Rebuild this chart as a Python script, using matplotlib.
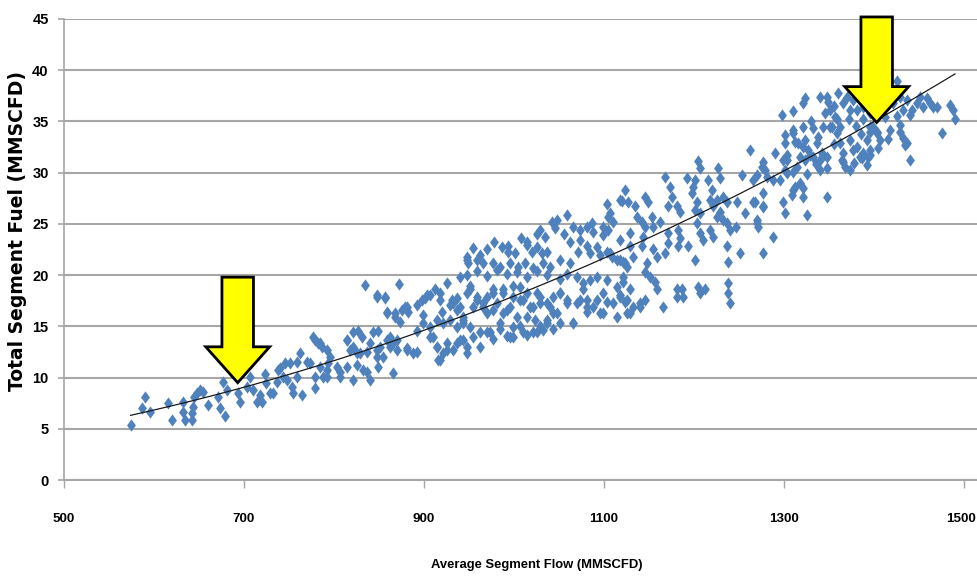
import numpy as np
import matplotlib.pyplot as plt
import matplotlib.transforms as mtransforms
from matplotlib.patches import Polygon

# Scatter points (flow in MMSCFD, fuel in MMSCFD)
flow = [574, 587, 590, 596, 616, 620, 632, 632, 634, 642, 642, 643, 645, 648, 651, 654, 660, 671, 673, 679,
        677, 681, 693, 696, 703, 707, 710, 714, 718, 720, 723, 725, 729, 732, 737, 738, 740, 743, 746, 751,
        748, 753, 754, 759, 764, 773, 779, 782, 787, 779, 779, 788, 792, 793,
        759, 770, 784, 803, 807, 792, 814, 818, 821, 826, 827, 831, 834, 837, 837, 843, 848, 848, 849, 849,
        857, 859, 862, 866, 866, 868, 870, 872, 873, 879, 881, 882, 892, 899, 901, 907, 910, 914, 916, 918,
        921, 926, 926, 931, 932, 937, 937, 940, 943, 943, 948, 948,
        899, 907, 914, 921, 929, 937, 943, 892, 851, 859, 826, 796, 784, 777, 762,
        948, 949, 959, 966, 970, 977, 984, 987, 993, 993, 996, 1001, 1004, 1012, 1014, 1014, 1020, 1021, 1026, 1029,
        1031, 1032, 1034, 1037, 1040, 1042, 1048, 1051, 1059, 1062, 1062, 1066, 1071, 1073, 1073, 1081, 1081, 1084,
        1087, 1088, 1092, 1096, 1099, 1099, 1103, 1103, 1104, 1104, 1109, 1114, 1120, 1121, 1123, 1126,
        948, 959, 970, 981, 992, 1003, 1014, 1026, 1037, 1051, 1059, 1070, 1077, 1084, 1092, 1103, 1114, 1121,
        1118, 1123, 1126, 1099, 1103, 1096, 1077, 1081, 1081, 1088, 1066, 1070, 1059, 1043, 1051, 1040, 1048, 1037,
        1026, 1029, 1018, 1014, 1023, 977, 988, 999, 1007, 1010, 951, 959, 966, 955, 970, 977, 988, 996, 1003, 984,
        999, 943, 951, 962, 973, 996, 1010, 1026, 1032,
        1262, 1204, 1207, 1168, 1192, 1201, 1227, 1229, 1253, 1266, 1276, 1281,
        1127, 1118, 1146, 1149, 1173, 1176, 1171, 1181, 1184, 1199, 1198, 1203, 1201, 1216, 1220, 1218, 1226, 1232,
        1237, 1221, 1229, 1248, 1257, 1266, 1277,
        1107, 1110, 1134, 1137, 1142, 1146, 1153, 1154, 1162, 1171, 1182, 1184, 1207, 1203, 1207, 1210, 1218, 1221,
        1226, 1232, 1237, 1240, 1247, 1270, 1271, 1277, 1251, 1237, 1238,
        1107, 1118, 1129, 1129, 1118, 1123, 1132, 1142, 1143, 1148, 1154, 1159, 1168, 1171, 1182, 1193, 1201,
        1146, 1151, 1157, 1121, 1118, 1129, 1132, 1140, 1146, 1159, 1181, 1187, 1188, 1181, 1204, 1207, 1212, 1166,
        1238, 1238, 1240,
        1298, 1310, 1323, 1321, 1340, 1348, 1349, 1351,
        1290, 1301, 1303, 1310, 1316, 1321, 1323, 1327, 1329, 1332, 1338, 1343, 1342, 1348, 1348,
        1353, 1359, 1359, 1362, 1366, 1370, 1373, 1377, 1381, 1384, 1388, 1396,
        1362, 1366, 1366, 1373, 1377, 1381, 1384, 1388, 1396, 1392, 1399, 1403, 1407, 1396, 1404,
        1410, 1421, 1426, 1429, 1432, 1437, 1442, 1448, 1451, 1454, 1459, 1462, 1466, 1470,
        1426, 1429, 1429, 1437, 1440, 1440, 1476, 1484, 1488, 1490,
        1296, 1303, 1310, 1321, 1326, 1348, 1340, 1342, 1318, 1314, 1303,
        1301, 1310, 1312, 1299, 1277, 1279, 1270, 1288, 1301, 1310, 1321, 1323, 1332, 1337, 1340, 1351, 1357,
        1364, 1368, 1373, 1393,
        1312, 1321, 1309, 1299, 1301, 1277, 1268, 1277, 1270, 1288,
        1432, 1434, 1396, 1387, 1403, 1396, 1388,
        # denser core of the cloud
        848, 857, 859, 868, 876, 881, 892,
        898, 903, 912, 918, 920, 929, 937, 940, 948, 951, 959, 966, 970, 977, 981, 988, 992, 999, 1007, 1014,
        1021, 1029, 1037, 1043, 1051, 1059, 1066, 1073, 1081, 1092, 1099, 1110, 1114, 1126, 1129, 1140,
        814, 821, 829, 840, 848, 854, 862, 870, 881, 888, 814, 821, 807, 792, 832, 840,
        907, 914, 918, 926, 932, 940, 948, 954, 962, 970, 977, 984, 992, 999, 1007, 1014, 1021, 1029, 1037, 1043, 1051,
        955, 962, 978, 1008, 1025, 1045, 1055,
        1330, 1345, 1355, 1360, 1372, 1380, 1385, 1390, 1400, 1412, 1418, 1415, 1392, 1378, 1356, 1335, 1325, 1318]

fuel = [5.4, 7.0, 8.1, 6.6, 7.5, 5.9, 7.6, 6.6, 5.9, 6.5, 5.9, 7.1, 8.1, 8.5, 8.8, 8.6, 7.3, 8.1, 7.0, 6.2,
        9.6, 8.8, 8.5, 7.6, 9.1, 10.1, 8.8, 7.6, 8.3, 7.6, 10.3, 9.5, 8.5, 8.5, 9.6, 10.7, 10.9, 10.1, 11.4, 11.4,
        9.8, 9.1, 8.5, 10.1, 8.3, 11.4, 13.7, 13.4, 13.0, 10.1, 9.0, 10.1, 10.7, 11.4,
        11.5, 11.5, 11.0, 11.0, 10.1, 12.7, 13.7, 12.7, 14.4, 11.2, 14.5, 14.0, 19.0, 12.5, 10.5, 14.4, 17.9, 12.0, 14.5, 11.0,
        17.9, 16.3, 14.0, 13.4, 10.4, 15.9, 12.7, 19.1, 15.4, 16.9, 12.9, 16.4, 12.5, 16.1, 17.8, 18.1, 14.0, 13.0, 11.7, 18.3,
        12.4, 19.2, 12.7, 17.6, 17.3, 16.6, 13.4, 19.8, 15.9, 13.7, 21.5, 13.0,
        15.3, 14.9, 15.6, 15.3, 15.6, 14.9, 15.3, 14.5, 13.0, 13.7, 12.4, 12.0, 13.4, 14.0, 12.4,
        21.8, 21.2, 21.5, 21.2, 22.5, 21.2, 20.8, 22.7, 22.3, 22.8, 21.2, 22.2, 20.8, 21.2, 22.9, 23.2, 22.3, 20.7, 22.7, 24.4,
        22.2, 21.2, 23.7, 22.3, 20.8, 25.2, 25.4, 21.5, 25.9, 21.2, 23.2, 24.7, 22.3, 24.4, 23.4, 24.7, 22.8, 22.2,
        25.1, 24.2, 22.7, 22.0, 24.7, 23.9, 26.9, 22.3, 25.7, 24.4, 21.8, 21.5, 27.2, 21.3, 28.3, 20.8,
        20.0, 20.4, 19.9, 20.5, 20.1, 20.3, 19.8, 20.4, 20.0, 19.6, 20.1, 19.8, 19.2, 19.5, 19.8, 19.5, 18.8, 19.8,
        18.1, 17.4, 16.3, 18.3, 17.4, 16.3, 18.6, 17.6, 16.4, 16.9, 15.3, 17.3, 17.6, 17.9, 18.3, 16.9, 16.3, 15.3,
        18.3, 17.3, 16.9, 15.9, 15.6, 18.3, 18.6, 17.9, 18.8, 17.6, 18.6, 17.9, 17.3, 16.9, 16.3, 16.6, 16.3, 16.9, 15.9, 15.3,
        14.9, 15.6, 14.9, 14.4, 14.4, 14.0, 14.4, 14.4, 14.6,
        32.2, 31.1, 30.5, 29.6, 29.5, 29.3, 30.5, 29.5, 29.8, 29.3, 30.6, 29.6,
        27.1, 27.3, 27.6, 27.1, 28.6, 27.6, 26.7, 26.7, 26.2, 28.6, 28.0, 27.1, 26.4, 29.3, 28.3, 27.3, 27.3, 27.6,
        27.1, 26.7, 26.2, 27.1, 26.1, 27.1, 26.7,
        26.1, 25.2, 26.7, 25.7, 25.2, 24.7, 25.7, 24.7, 25.2, 24.1, 24.4, 23.6, 26.1, 25.1, 24.1, 23.4, 24.4, 23.7,
        25.7, 25.4, 25.1, 24.4, 24.7, 25.4, 24.7, 22.2, 22.2, 22.8, 21.3,
        22.2, 23.4, 24.1, 22.8, 21.5, 21.2, 21.8, 22.8, 23.7, 21.2, 22.5, 21.8, 22.2, 23.1, 22.8, 22.8, 21.5,
        20.3, 19.8, 19.3, 19.3, 17.9, 18.6, 16.9, 17.3, 17.6, 18.6, 18.6, 18.6, 17.9, 17.9, 18.8, 18.3, 18.6, 16.9,
        19.2, 18.3, 17.3,
        35.6, 36.0, 37.3, 36.8, 37.4, 37.4, 36.9, 36.1,
        31.9, 32.9, 31.7, 33.9, 32.9, 34.5, 33.2, 32.2, 31.7, 34.4, 33.5, 34.5, 31.9, 31.5, 30.5,
        34.5, 35.2, 33.9, 34.5, 36.8, 37.4, 36.1, 37.1, 36.1, 37.1, 36.4, 35.8,
        32.9, 31.9, 31.0, 33.2, 32.2, 32.5, 31.5, 31.9, 32.2, 33.2, 34.5, 33.9, 33.2, 34.0, 32.4,
        37.1, 36.8, 38.9, 37.4, 36.1, 37.1, 36.1, 36.8, 37.4, 36.4, 37.3, 36.8, 36.4, 36.4,
        35.5, 34.7, 34.0, 32.9, 31.2, 35.6, 33.9, 36.6, 36.1, 35.2,
        29.3, 30.0, 28.3, 27.6, 25.9, 27.6, 30.3, 31.5, 31.5, 30.6, 31.2,
        33.7, 34.2, 33.0, 31.2, 31.0, 30.3, 29.8, 29.3, 30.3, 30.1, 32.5, 31.2, 31.5, 32.9, 31.2, 34.5, 35.4,
        31.2, 30.6, 30.3, 31.5,
        28.6, 28.5, 27.8, 27.1, 26.1, 28.0, 27.1, 26.6, 25.1, 23.7,
        33.4, 32.7, 31.7, 31.4, 34.0, 34.5, 35.2,
        18.1, 17.8, 16.4, 16.3, 16.6, 16.9, 17.1,
        17.6, 18.1, 18.6, 17.6, 16.4, 17.1, 17.8, 16.9, 18.3, 18.9, 17.6, 16.9, 17.9, 18.6, 17.3, 18.3, 16.6, 18.9, 17.6, 18.3,
        16.9, 17.9, 17.3, 16.3, 18.3, 17.3, 15.3, 17.6, 16.9, 17.6, 16.3, 17.3, 15.9, 17.6, 16.3, 16.9,
        13.7, 13.0, 12.4, 13.4, 12.7, 12.0, 13.0, 13.7, 12.7, 12.4, 11.0, 9.8, 10.5, 10.1, 10.7, 9.8,
        14.0, 13.0, 11.7, 13.4, 12.7, 13.7, 12.4, 14.0, 13.0, 14.4, 13.8, 14.7, 14.1, 14.0, 15.0, 14.2, 14.4, 15.0, 15.6, 14.7, 15.3,
        22.6, 22.0, 23.2, 23.6, 24.0, 24.6, 24.0,
        35.0, 35.8, 36.5, 37.8, 35.2, 34.6, 33.8, 36.9, 36.0, 35.4, 34.2, 33.3, 30.7, 30.9, 32.8, 30.8, 29.9, 29.0]

# 2nd order polynomial trendline as drawn on the chart, in u = (flow - 1000) / 100
trend_a, trend_b, trend_c = 17.95, 3.52, 0.185

# yellow callout arrows: tip position (flow, fuel) and top of the shaft
arrow_tips = [(693, 9.5), (1403, 34.9)]
arrow_tops = [19.8, 45.2]

xticks = [500, 700, 900, 1100, 1300, 1500]
yticks = [0, 5, 10, 15, 20, 25, 30, 35, 40, 45]

fig = plt.figure(figsize=(9.77, 5.8), dpi=100)
ax = fig.add_axes([64 / 977, 1 - 480 / 580, 1 - 64 / 977, 461 / 580])

# diamond marker, a bit taller than wide like Excel's
diamond = [(0, 1), (0.72, 0), (0, -1), (-0.72, 0), (0, 1)]
ax.scatter(flow, fuel, marker=diamond, s=78, color='#4F81BD', linewidths=0, zorder=3)

xs = np.linspace(min(flow), max(flow), 200)
u = (xs - 1000) / 100
ax.plot(xs, trend_a + trend_b * u + trend_c * u ** 2, color='#1a1a1a', lw=0.9, zorder=4)

# block arrows
for (tx, ty), top in zip(arrow_tips, arrow_tops):
    shaft, head = 17.5, 35.5
    head_base = ty + 3.5
    pts = [(tx - shaft, top), (tx + shaft, top), (tx + shaft, head_base), (tx + head, head_base),
           (tx, ty), (tx - head, head_base), (tx - shaft, head_base)]
    ax.add_patch(Polygon(pts, closed=True, facecolor='#FFFF00', edgecolor='black',
                         lw=2.0, joinstyle='miter', zorder=5, clip_on=False))

ax.set_xlim(500, 500 + 913 / 0.9)
ax.set_ylim(0, 45)
ax.set_xticks(xticks)
ax.set_yticks(yticks)
ax.set_axisbelow(True)
ax.yaxis.grid(True, color='#A6A6A6', lw=1.5)
for s in ['top', 'right']:
    ax.spines[s].set_visible(False)
ax.spines['left'].set_color('#A6A6A6')
ax.spines['bottom'].set_color('#A6A6A6')
ax.spines['left'].set_linewidth(1.2)
ax.spines['bottom'].set_linewidth(1.5)
ax.tick_params(axis='y', length=4, width=1.2, color='#A6A6A6', pad=7)
ax.tick_params(axis='x', length=6, width=1.0, color='#A6A6A6', pad=18)
for lab in ax.get_xticklabels():
    lab.set_family(['Liberation Sans Narrow', 'Liberation Sans'])
    lab.set_fontweight('bold')
    lab.set_fontsize(9.6)
for lab in ax.get_yticklabels():
    lab.set_family(['Liberation Sans Narrow', 'Liberation Sans'])
    lab.set_fontweight('bold')
    lab.set_fontsize(10.5)

# the last x label sits at the right edge, nudge it in a little
last = ax.xaxis.get_major_ticks()[-1].label1
last.set_transform(last.get_transform() + mtransforms.ScaledTranslation(-2.5 / 72, 0, fig.dpi_scale_trans))

fig.text(537 / 977, 1 - 565 / 580, 'Average Segment Flow (MMSCFD)', ha='center', va='center',
         family=['Liberation Sans Narrow', 'Liberation Sans'], fontweight='bold', fontsize=9.4)
fig.text(18 / 977, 1 - 231 / 580, 'Total Segment Fuel (MMSCFD)', ha='center', va='center',
         rotation=90, family=['DejaVu Sans'], fontweight='bold', fontsize=13.5)

fig.savefig('out.png', dpi=100)
